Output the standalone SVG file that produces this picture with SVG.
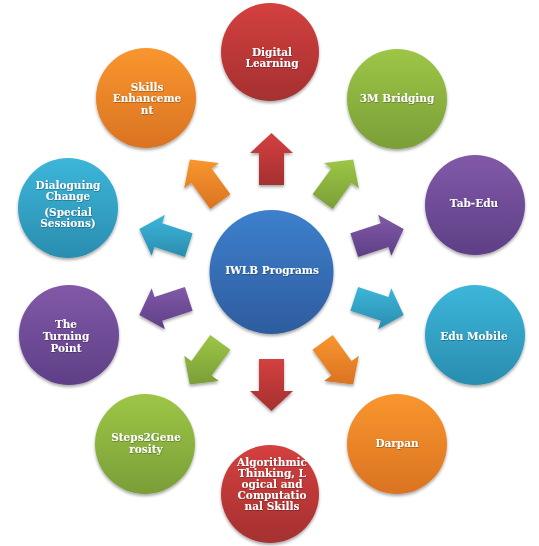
<svg xmlns="http://www.w3.org/2000/svg" width="539" height="546" viewBox="0 0 539 546">
<defs>
<linearGradient id="gRed" x1="0" y1="0" x2="0" y2="1"><stop offset="0" stop-color="#d4403f"/><stop offset="1" stop-color="#a53030"/></linearGradient>
<linearGradient id="gGreen" x1="0" y1="0" x2="0" y2="1"><stop offset="0" stop-color="#9dc646"/><stop offset="1" stop-color="#7a9e38"/></linearGradient>
<linearGradient id="gPurple" x1="0" y1="0" x2="0" y2="1"><stop offset="0" stop-color="#8159a8"/><stop offset="1" stop-color="#5e3f86"/></linearGradient>
<linearGradient id="gTeal" x1="0" y1="0" x2="0" y2="1"><stop offset="0" stop-color="#3cb6da"/><stop offset="1" stop-color="#2a8daf"/></linearGradient>
<linearGradient id="gOrange" x1="0" y1="0" x2="0" y2="1"><stop offset="0" stop-color="#f9962e"/><stop offset="1" stop-color="#da7322"/></linearGradient>
<linearGradient id="gBlue" x1="0" y1="0" x2="0" y2="1"><stop offset="0" stop-color="#3d80cd"/><stop offset="1" stop-color="#2e5c9e"/></linearGradient>
<filter id="sh" x="-20%" y="-20%" width="140%" height="150%"><feDropShadow dx="0" dy="2" stdDeviation="1.8" flood-color="#000" flood-opacity="0.35"/></filter>
<filter id="tsh" x="-10%" y="-10%" width="120%" height="130%"><feDropShadow dx="0.4" dy="0.6" stdDeviation="0.4" flood-color="#000" flood-opacity="0.45"/></filter>
<style>
.t{font-family:"DejaVu Serif","Liberation Serif",serif;font-weight:bold;font-size:10.5px;fill:#fff;text-anchor:middle;filter:url(#tsh)}
.c{filter:url(#sh)}
</style>
</defs>
<g id="connectors" class="c">
<polygon fill="url(#gRed)" points="271.5,133 293,153 284,153 284,185 259,185 259,153 250,153"/>
<polygon fill="url(#gGreen)" points="353.2,159.55 358.84,188.37 351.56,183.08 332.75,208.97 312.53,194.27 331.34,168.38 324.06,163.09"/>
<polygon fill="url(#gPurple)" points="403.7,229.05 391.32,255.68 388.54,247.12 358.11,257.01 350.39,233.23 380.82,223.34 378.04,214.78"/>
<polygon fill="url(#gTeal)" points="403.7,314.95 378.04,329.22 380.82,320.66 350.39,310.77 358.11,286.99 388.54,296.88 391.32,288.32"/>
<polygon fill="url(#gOrange)" points="353.2,384.45 324.06,380.91 331.34,375.62 312.53,349.73 332.75,335.03 351.56,360.92 358.84,355.63"/>
<polygon fill="url(#gRed)" points="271.5,411 250,391 259,391 259,359 284,359 284,391 293,391"/>
<polygon fill="url(#gGreen)" points="189.8,384.45 184.16,355.63 191.44,360.92 210.25,335.03 230.47,349.73 211.66,375.62 218.94,380.91"/>
<polygon fill="url(#gPurple)" points="139.3,314.95 164.96,329.22 162.18,320.66 192.61,310.77 184.89,286.99 154.46,296.88 151.68,288.32"/>
<polygon fill="url(#gTeal)" points="139.3,229.05 151.68,255.68 154.46,247.12 184.89,257.01 192.61,233.23 162.18,223.34 164.96,214.78"/>
<polygon fill="url(#gOrange)" points="189.8,159.55 218.94,163.09 211.66,168.38 230.47,194.27 210.25,208.97 191.44,183.08 184.16,188.37"/>
</g>
<g id="center">
<circle class="c" cx="271.5" cy="272" r="62" fill="url(#gBlue)"/>
<text class="t" x="272" y="274">IWLB Programs</text>
</g>
<g id="digital-learning">
<circle class="c" cx="270" cy="52" r="49" fill="url(#gRed)"/>
<text class="t" x="272" y="56">Digital</text>
<text class="t" x="272" y="67">Learning</text>
</g>
<g id="3m-bridging">
<circle class="c" cx="397" cy="99" r="50" fill="url(#gGreen)"/>
<text class="t" x="397" y="102">3M Bridging</text>
</g>
<g id="tab-edu">
<circle class="c" cx="475" cy="205" r="50" fill="url(#gPurple)"/>
<text class="t" x="474" y="207">Tab-Edu</text>
</g>
<g id="edu-mobile">
<circle class="c" cx="475" cy="335" r="50" fill="url(#gTeal)"/>
<text class="t" x="474" y="340">Edu Mobile</text>
</g>
<g id="darpan">
<circle class="c" cx="397" cy="444" r="50" fill="url(#gOrange)"/>
<text class="t" x="397" y="447">Darpan</text>
</g>
<g id="algorithmic">
<circle class="c" cx="270" cy="494" r="49" fill="url(#gRed)"/>
<text class="t" x="272" y="466">Algorithmic</text>
<text class="t" x="272" y="477">Thinking, L</text>
<text class="t" x="272" y="488">ogical and</text>
<text class="t" x="272" y="499">Computatio</text>
<text class="t" x="272" y="510">nal Skills</text>
</g>
<g id="steps2generosity">
<circle class="c" cx="145" cy="444" r="50" fill="url(#gGreen)"/>
<text class="t" x="146" y="441">Steps2Gene</text>
<text class="t" x="146" y="453">rosity</text>
</g>
<g id="turning-point">
<circle class="c" cx="69" cy="335" r="50" fill="url(#gPurple)"/>
<text class="t" x="66" y="328">The</text>
<text class="t" x="66" y="340">Turning</text>
<text class="t" x="66" y="352">Point</text>
</g>
<g id="dialoguing-change">
<circle class="c" cx="68" cy="208" r="50" fill="url(#gTeal)"/>
<text class="t" x="68" y="189">Dialoguing</text>
<text class="t" x="68" y="200">Change</text>
<text class="t" x="68" y="216">(Special</text>
<text class="t" x="68" y="227">Sessions)</text>
</g>
<g id="skills-enhancement">
<circle class="c" cx="146" cy="98" r="50" fill="url(#gOrange)"/>
<text class="t" x="147" y="91">Skills</text>
<text class="t" x="147" y="102">Enhanceme</text>
<text class="t" x="147" y="114">nt</text>
</g>
</svg>
